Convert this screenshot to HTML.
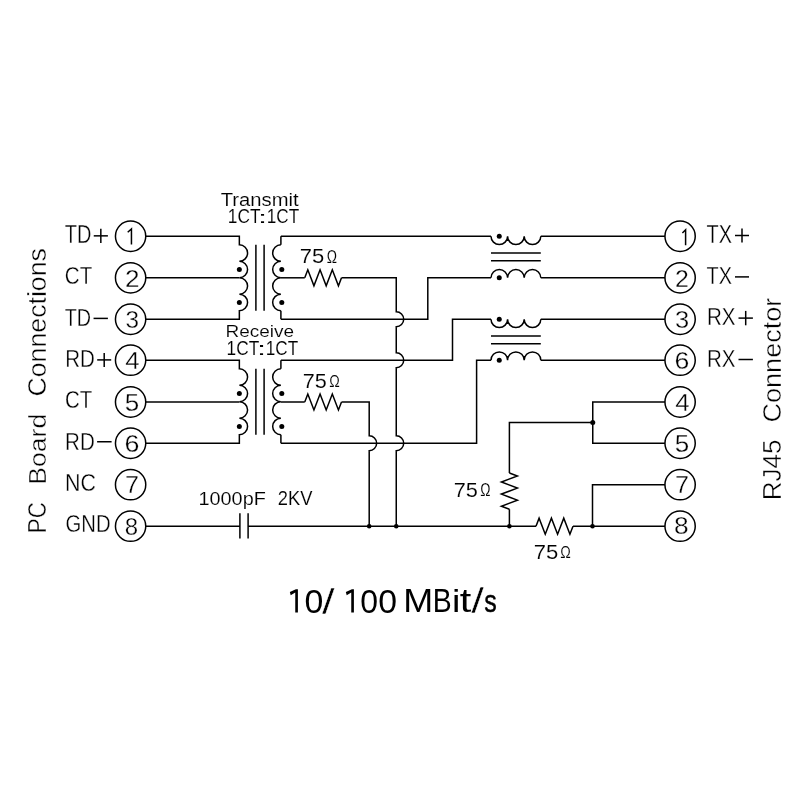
<!DOCTYPE html>
<html><head><meta charset="utf-8"><style>
html,body{margin:0;padding:0;background:#fff;}
svg{display:block;filter:grayscale(1);}
.s line,.s path,.s polyline,.s circle{fill:none;stroke:#000;stroke-width:1.5;stroke-linejoin:miter;stroke-linecap:butt;}
.s circle.d,.s path.d{fill:#000;stroke:none;}
text{font-family:"Liberation Sans",sans-serif;fill:#000;stroke:#fff;}
</style></head><body>
<svg width="800" height="800" viewBox="0 0 800 800">
<rect width="800" height="800" fill="#fff"/>
<g class="s">
<circle cx="130.6" cy="236.25" r="15.15"/>
<circle cx="130.6" cy="277.8" r="15.15"/>
<circle cx="130.6" cy="319.25" r="15.15"/>
<circle cx="130.6" cy="360.2" r="15.15"/>
<circle cx="130.6" cy="402" r="15.15"/>
<circle cx="130.6" cy="443.25" r="15.15"/>
<circle cx="130.6" cy="484.7" r="15.15"/>
<circle cx="130.6" cy="526.2" r="15.15"/>
<circle cx="680.1" cy="236.25" r="15.15"/>
<circle cx="680.1" cy="277.8" r="15.15"/>
<circle cx="680.1" cy="319.25" r="15.15"/>
<circle cx="680.1" cy="360.2" r="15.15"/>
<circle cx="680.1" cy="402" r="15.15"/>
<circle cx="680.1" cy="443.25" r="15.15"/>
<circle cx="680.1" cy="484.7" r="15.15"/>
<circle cx="680.1" cy="526.2" r="15.15"/>
<path d="M145.75 236.25 H239.35 V244.85  A8.22 8.22 0 0 1 239.35 261.3 A8.22 8.22 0 0 1 239.35 277.75 A8.22 8.22 0 0 1 239.35 294.2 A8.22 8.22 0 0 1 239.35 310.65 V319.25 H145.75" />
<line x1="145.75" y1="277.8" x2="239.35" y2="277.8"/>
<path d="M280.9 244.85 A8.22 8.22 0 0 0 280.9 261.3 A8.22 8.22 0 0 0 280.9 277.75 A8.22 8.22 0 0 0 280.9 294.2 A8.22 8.22 0 0 0 280.9 310.65" />
<line x1="280.9" y1="236.25" x2="280.9" y2="244.85"/>
<line x1="280.9" y1="310.65" x2="280.9" y2="319.25"/>
<line x1="255.9" y1="244.85" x2="255.9" y2="310.65"/>
<line x1="264.1" y1="244.85" x2="264.1" y2="310.65"/>
<circle cx="239.35" cy="269.52" r="2.5" class="d"/>
<circle cx="239.35" cy="302.43" r="2.5" class="d"/>
<circle cx="281.8" cy="269.52" r="2.5" class="d"/>
<circle cx="281.8" cy="302.43" r="2.5" class="d"/>
<path d="M145.75 360.2 H239.35 V368.8  A8.23 8.23 0 0 1 239.35 385.26 A8.23 8.23 0 0 1 239.35 401.73 A8.23 8.23 0 0 1 239.35 418.19 A8.23 8.23 0 0 1 239.35 434.65 V443.25 H145.75" />
<line x1="145.75" y1="402" x2="239.35" y2="402"/>
<path d="M280.9 368.8 A8.23 8.23 0 0 0 280.9 385.26 A8.23 8.23 0 0 0 280.9 401.73 A8.23 8.23 0 0 0 280.9 418.19 A8.23 8.23 0 0 0 280.9 434.65" />
<line x1="280.9" y1="360.2" x2="280.9" y2="368.8"/>
<line x1="280.9" y1="434.65" x2="280.9" y2="443.25"/>
<line x1="255.9" y1="368.8" x2="255.9" y2="434.65"/>
<line x1="264.1" y1="368.8" x2="264.1" y2="434.65"/>
<circle cx="239.35" cy="393.49" r="2.5" class="d"/>
<circle cx="239.35" cy="426.42" r="2.5" class="d"/>
<circle cx="281.8" cy="393.49" r="2.5" class="d"/>
<circle cx="281.8" cy="426.42" r="2.5" class="d"/>
<line x1="491" y1="252.95" x2="540.8" y2="252.95"/>
<line x1="491" y1="260.85" x2="540.8" y2="260.85"/>
<path d="M491 236.25 A8.3 8.3 0 0 0 507.6 236.25 A8.3 8.3 0 0 0 524.2 236.25 A8.3 8.3 0 0 0 540.8 236.25" />
<path d="M491 277.8 A8.3 8.3 0 0 1 507.6 277.8 A8.3 8.3 0 0 1 524.2 277.8 A8.3 8.3 0 0 1 540.8 277.8" />
<circle cx="499.25" cy="236.25" r="2.5" class="d"/>
<circle cx="499.25" cy="277.8" r="2.5" class="d"/>
<line x1="491" y1="335.95" x2="540.8" y2="335.95"/>
<line x1="491" y1="343.85" x2="540.8" y2="343.85"/>
<path d="M491 319.25 A8.3 8.3 0 0 0 507.6 319.25 A8.3 8.3 0 0 0 524.2 319.25 A8.3 8.3 0 0 0 540.8 319.25" />
<path d="M491 360.2 A8.3 8.3 0 0 1 507.6 360.2 A8.3 8.3 0 0 1 524.2 360.2 A8.3 8.3 0 0 1 540.8 360.2" />
<circle cx="499.25" cy="319.25" r="2.5" class="d"/>
<circle cx="499.25" cy="360.2" r="2.5" class="d"/>
<line x1="280.9" y1="236.25" x2="491" y2="236.25"/>
<line x1="540.8" y1="236.25" x2="664.95" y2="236.25"/>
<line x1="280.9" y1="277.8" x2="304.75" y2="277.8"/>
<polyline points="304.75,277.8 307.81,269.8 313.94,285.8 320.06,269.8 326.19,285.8 332.31,269.8 338.44,285.8 341.5,277.8"/>
<path d="M341.5 277.8 H396.25 V311.8 A7.45 7.45 0 0 1 396.25 326.7 V352.75 A7.45 7.45 0 0 1 396.25 367.65 V435.8 A7.45 7.45 0 0 1 396.25 450.7 V526.2" />
<polyline points="280.9,319.25 427.8,319.25 427.8,277.8 491,277.8"/>
<line x1="540.8" y1="277.8" x2="664.95" y2="277.8"/>
<polyline points="280.9,360.2 452.5,360.2 452.5,319.25 491,319.25"/>
<line x1="540.8" y1="319.25" x2="664.95" y2="319.25"/>
<line x1="280.9" y1="402" x2="304.75" y2="402"/>
<polyline points="304.75,402 307.81,394 313.94,410 320.06,394 326.19,410 332.31,394 338.44,410 341.5,402"/>
<path d="M341.5 402 H369.2 V435.8 A7.45 7.45 0 0 1 369.2 450.7 V526.2" />
<polyline points="280.9,443.25 476.6,443.25 476.6,360.2 491,360.2"/>
<line x1="540.8" y1="360.2" x2="664.95" y2="360.2"/>
<line x1="145.75" y1="526.2" x2="239.9" y2="526.2"/>
<line x1="239.9" y1="513.25" x2="239.9" y2="538.6"/>
<line x1="248.1" y1="513.25" x2="248.1" y2="538.6"/>
<line x1="248.1" y1="526.2" x2="536" y2="526.2"/>
<polyline points="536,526.2 539.08,518.2 545.25,534.2 551.42,518.2 557.58,534.2 563.75,518.2 569.92,534.2 573,526.2"/>
<line x1="573" y1="526.2" x2="664.95" y2="526.2"/>
<circle cx="369.2" cy="526.2" r="2.3" class="d"/>
<circle cx="396.25" cy="526.2" r="2.3" class="d"/>
<circle cx="509.4" cy="526.2" r="2.3" class="d"/>
<circle cx="592.5" cy="526.2" r="2.3" class="d"/>
<polyline points="664.95,402 592.75,402 592.75,443.25 664.95,443.25"/>
<circle cx="592.75" cy="422.45" r="2.5" class="d"/>
<polyline points="592.75,422.45 509.4,422.45 509.4,473"/>
<polyline points="509.4,473 517.4,476.02 501.4,482.05 517.4,488.08 501.4,494.12 517.4,500.15 501.4,506.18 509.4,509.2"/>
<line x1="509.4" y1="509.2" x2="509.4" y2="526.2"/>
<polyline points="664.95,484.7 592.5,484.7 592.5,526.2"/>
<path d="M127.7 232.3 L131.45 229 V244.6" />
<path class="d" d="M297.9 589.25 L297.9 612.5 L295.25 612.5 L295.25 592.6 L290.7 595.2 L289.85 592.1 L295.9 589.25 Z"/>
<path class="d" d="M353.9 589.25 L353.9 612.5 L351.25 612.5 L351.25 592.6 L346.7 595.2 L345.85 592.1 L351.9 589.25 Z"/>
<line x1="93.75" y1="235.85" x2="107.9" y2="235.85"/>
<line x1="100.83" y1="228.77" x2="100.83" y2="242.93"/>
<line x1="97.2" y1="359.9" x2="111.2" y2="359.9"/>
<line x1="104.2" y1="352.9" x2="104.2" y2="366.9"/>
<line x1="735" y1="235.5" x2="749" y2="235.5"/>
<line x1="742" y1="228.5" x2="742" y2="242.5"/>
<line x1="738.5" y1="318.1" x2="752.9" y2="318.1"/>
<line x1="745.7" y1="310.9" x2="745.7" y2="325.3"/>
<line x1="93.56" y1="318.4" x2="107.9" y2="318.4"/>
<line x1="97.1" y1="441.75" x2="111.6" y2="441.75"/>
<line x1="735" y1="276.9" x2="749" y2="276.9"/>
<line x1="738.5" y1="359.5" x2="752.9" y2="359.5"/>
<path d="M682.4 233 L685.6 229.8 V245.3" />
</g>
<g class="tx">
<text x="64.750" y="243.100" font-size="25.022" textLength="26.625" lengthAdjust="spacingAndGlyphs" style="stroke-width:0.3px">TD</text>
<text x="64.750" y="284.000" font-size="23.775" textLength="27.513" lengthAdjust="spacingAndGlyphs" style="stroke-width:0.3px">CT</text>
<text x="64.750" y="325.900" font-size="24.648" textLength="26.309" lengthAdjust="spacingAndGlyphs" style="stroke-width:0.3px">TD</text>
<text x="65.250" y="367.100" font-size="24.648" textLength="29.592" lengthAdjust="spacingAndGlyphs" style="stroke-width:0.3px">RD</text>
<text x="65.000" y="408.000" font-size="24.124" textLength="27.300" lengthAdjust="spacingAndGlyphs" style="stroke-width:0.3px">CT</text>
<text x="65.100" y="450.050" font-size="24.049" textLength="29.677" lengthAdjust="spacingAndGlyphs" style="stroke-width:0.3px">RD</text>
<text x="65.000" y="491.000" font-size="23.895" textLength="30.917" lengthAdjust="spacingAndGlyphs" style="stroke-width:0.3px">NC</text>
<text x="65.500" y="531.750" font-size="23.425" textLength="45.043" lengthAdjust="spacingAndGlyphs" style="stroke-width:0.3px">GND</text>
<text x="706.500" y="243.000" font-size="24.969" textLength="25.380" lengthAdjust="spacingAndGlyphs" style="stroke-width:0.3px">TX</text>
<text x="706.500" y="284.100" font-size="24.049" textLength="25.380" lengthAdjust="spacingAndGlyphs" style="stroke-width:0.3px">TX</text>
<text x="707.000" y="325.100" font-size="24.206" textLength="28.541" lengthAdjust="spacingAndGlyphs" style="stroke-width:0.3px">RX</text>
<text x="707.000" y="366.750" font-size="23.827" textLength="28.541" lengthAdjust="spacingAndGlyphs" style="stroke-width:0.3px">RX</text>
<text x="220.750" y="205.750" font-size="18.189" textLength="77.939" lengthAdjust="spacingAndGlyphs" style="stroke-width:0.12px">Transmit</text>
<text x="227.750" y="222.750" font-size="20.075" textLength="32.740" lengthAdjust="spacingAndGlyphs" style="stroke-width:0.12px">1CT</text>
<text x="258.000" y="222.500" font-size="17.100" textLength="9.054" lengthAdjust="spacingAndGlyphs" style="stroke:none">:</text>
<text x="266.750" y="222.750" font-size="20.075" textLength="32.476" lengthAdjust="spacingAndGlyphs" style="stroke-width:0.12px">1CT</text>
<text x="225.500" y="336.500" font-size="16.111" textLength="68.481" lengthAdjust="spacingAndGlyphs" style="stroke-width:0.12px">Receive</text>
<text x="226.500" y="354.750" font-size="19.717" textLength="32.740" lengthAdjust="spacingAndGlyphs" style="stroke-width:0.12px">1CT</text>
<text x="257.000" y="354.750" font-size="17.575" textLength="9.054" lengthAdjust="spacingAndGlyphs" style="stroke:none">:</text>
<text x="265.750" y="354.750" font-size="19.717" textLength="32.476" lengthAdjust="spacingAndGlyphs" style="stroke-width:0.12px">1CT</text>
<text x="299.750" y="263.250" font-size="20.754" textLength="24.496" lengthAdjust="spacingAndGlyphs" style="stroke-width:0.12px">75</text>
<text x="326.800" y="262.700" font-size="17.810" textLength="10.282" lengthAdjust="spacingAndGlyphs" style="stroke-width:0.12px">Ω</text>
<text x="302.870" y="387.750" font-size="20.096" textLength="24.037" lengthAdjust="spacingAndGlyphs" style="stroke-width:0.12px">75</text>
<text x="329.250" y="386.850" font-size="17.240" textLength="10.554" lengthAdjust="spacingAndGlyphs" style="stroke-width:0.12px">Ω</text>
<text x="453.750" y="496.800" font-size="19.897" textLength="24.173" lengthAdjust="spacingAndGlyphs" style="stroke-width:0.12px">75</text>
<text x="480.300" y="496.300" font-size="17.601" textLength="10.276" lengthAdjust="spacingAndGlyphs" style="stroke-width:0.12px">Ω</text>
<text x="533.800" y="558.750" font-size="19.970" textLength="24.543" lengthAdjust="spacingAndGlyphs" style="stroke-width:0.12px">75</text>
<text x="560.300" y="558.200" font-size="17.168" textLength="10.554" lengthAdjust="spacingAndGlyphs" style="stroke-width:0.12px">Ω</text>
<text x="198.500" y="504.950" font-size="19.000" textLength="67.313" lengthAdjust="spacingAndGlyphs" style="stroke-width:0.12px">1000pF</text>
<text x="277.750" y="505.140" font-size="19.410" textLength="34.638" lengthAdjust="spacingAndGlyphs" style="stroke-width:0.12px">2KV</text>
<text x="304.500" y="612.550" font-size="34.065" textLength="18.831" lengthAdjust="spacingAndGlyphs" style="stroke:none">0</text>
<text x="322.000" y="613.750" font-size="35.592" textLength="12.620" lengthAdjust="spacingAndGlyphs" style="stroke-width:0.35px">/</text>
<text x="360.300" y="612.550" font-size="34.065" textLength="17.777" lengthAdjust="spacingAndGlyphs" style="stroke:none">0</text>
<text x="378.250" y="612.550" font-size="34.065" textLength="18.773" lengthAdjust="spacingAndGlyphs" style="stroke:none">0</text>
<text x="403.220" y="612.200" font-size="33.948" textLength="29.931" lengthAdjust="spacingAndGlyphs" style="stroke:none">M</text>
<text x="432.700" y="612.200" font-size="33.948" textLength="18.931" lengthAdjust="spacingAndGlyphs" style="stroke:none">B</text>
<text x="451.900" y="612.200" font-size="32.179" textLength="8.358" lengthAdjust="spacingAndGlyphs" style="stroke:none">i</text>
<text x="459.650" y="612.050" font-size="33.464" textLength="11.518" lengthAdjust="spacingAndGlyphs" style="stroke:none">t</text>
<text x="471.250" y="613.050" font-size="35.039" textLength="12.620" lengthAdjust="spacingAndGlyphs" style="stroke-width:0.35px">/</text>
<text x="484.300" y="612.250" font-size="31.192" textLength="12.485" lengthAdjust="spacingAndGlyphs" style="stroke:#000;stroke-width:0.45px">s</text>
<text x="0" y="0" transform="translate(46.250 533.250) rotate(-90)" font-size="25.278" textLength="31.087" lengthAdjust="spacingAndGlyphs" style="stroke-width:0.45px">PC</text>
<text x="0" y="0" transform="translate(46.250 484.750) rotate(-90)" font-size="24.595" textLength="70.992" lengthAdjust="spacingAndGlyphs" style="stroke-width:0.45px">Board</text>
<text x="0" y="0" transform="translate(46.250 396.500) rotate(-90)" font-size="25.649" textLength="148.371" lengthAdjust="spacingAndGlyphs" style="stroke-width:0.45px">Connections</text>
<text x="0" y="0" transform="translate(781.000 500.250) rotate(-90)" font-size="26.366" textLength="60.705" lengthAdjust="spacingAndGlyphs" style="stroke-width:0.45px">RJ45</text>
<text x="0" y="0" transform="translate(781.100 422.500) rotate(-90)" font-size="26.367" textLength="124.809" lengthAdjust="spacingAndGlyphs" style="stroke-width:0.45px">Connector</text>
<text x="125.050" y="286.850" font-size="24.667" textLength="14.555" lengthAdjust="spacingAndGlyphs" style="stroke-width:0.3px">2</text>
<text x="125.550" y="327.950" font-size="24.597" textLength="13.534" lengthAdjust="spacingAndGlyphs" style="stroke-width:0.3px">3</text>
<text x="125.350" y="368.800" font-size="23.698" textLength="14.339" lengthAdjust="spacingAndGlyphs" style="stroke-width:0.3px">4</text>
<text x="124.850" y="410.500" font-size="24.134" textLength="14.472" lengthAdjust="spacingAndGlyphs" style="stroke-width:0.3px">5</text>
<text x="124.600" y="451.900" font-size="23.774" textLength="14.922" lengthAdjust="spacingAndGlyphs" style="stroke-width:0.3px">6</text>
<text x="124.950" y="493.200" font-size="24.600" textLength="13.941" lengthAdjust="spacingAndGlyphs" style="stroke-width:0.3px">7</text>
<text x="124.700" y="534.600" font-size="24.086" textLength="13.386" lengthAdjust="spacingAndGlyphs" style="stroke-width:0.3px">8</text>
<text x="674.950" y="286.900" font-size="24.296" textLength="13.833" lengthAdjust="spacingAndGlyphs" style="stroke-width:0.3px">2</text>
<text x="675.100" y="327.950" font-size="24.597" textLength="14.183" lengthAdjust="spacingAndGlyphs" style="stroke-width:0.3px">3</text>
<text x="674.600" y="369.000" font-size="23.409" textLength="14.849" lengthAdjust="spacingAndGlyphs" style="stroke-width:0.3px">6</text>
<text x="675.350" y="410.750" font-size="23.540" textLength="14.339" lengthAdjust="spacingAndGlyphs" style="stroke-width:0.3px">4</text>
<text x="674.850" y="451.900" font-size="24.134" textLength="14.472" lengthAdjust="spacingAndGlyphs" style="stroke-width:0.3px">5</text>
<text x="674.950" y="493.200" font-size="24.600" textLength="13.941" lengthAdjust="spacingAndGlyphs" style="stroke-width:0.3px">7</text>
<text x="673.900" y="534.450" font-size="23.774" textLength="14.653" lengthAdjust="spacingAndGlyphs" style="stroke-width:0.3px">8</text>
</g>
</svg>
</body></html>
